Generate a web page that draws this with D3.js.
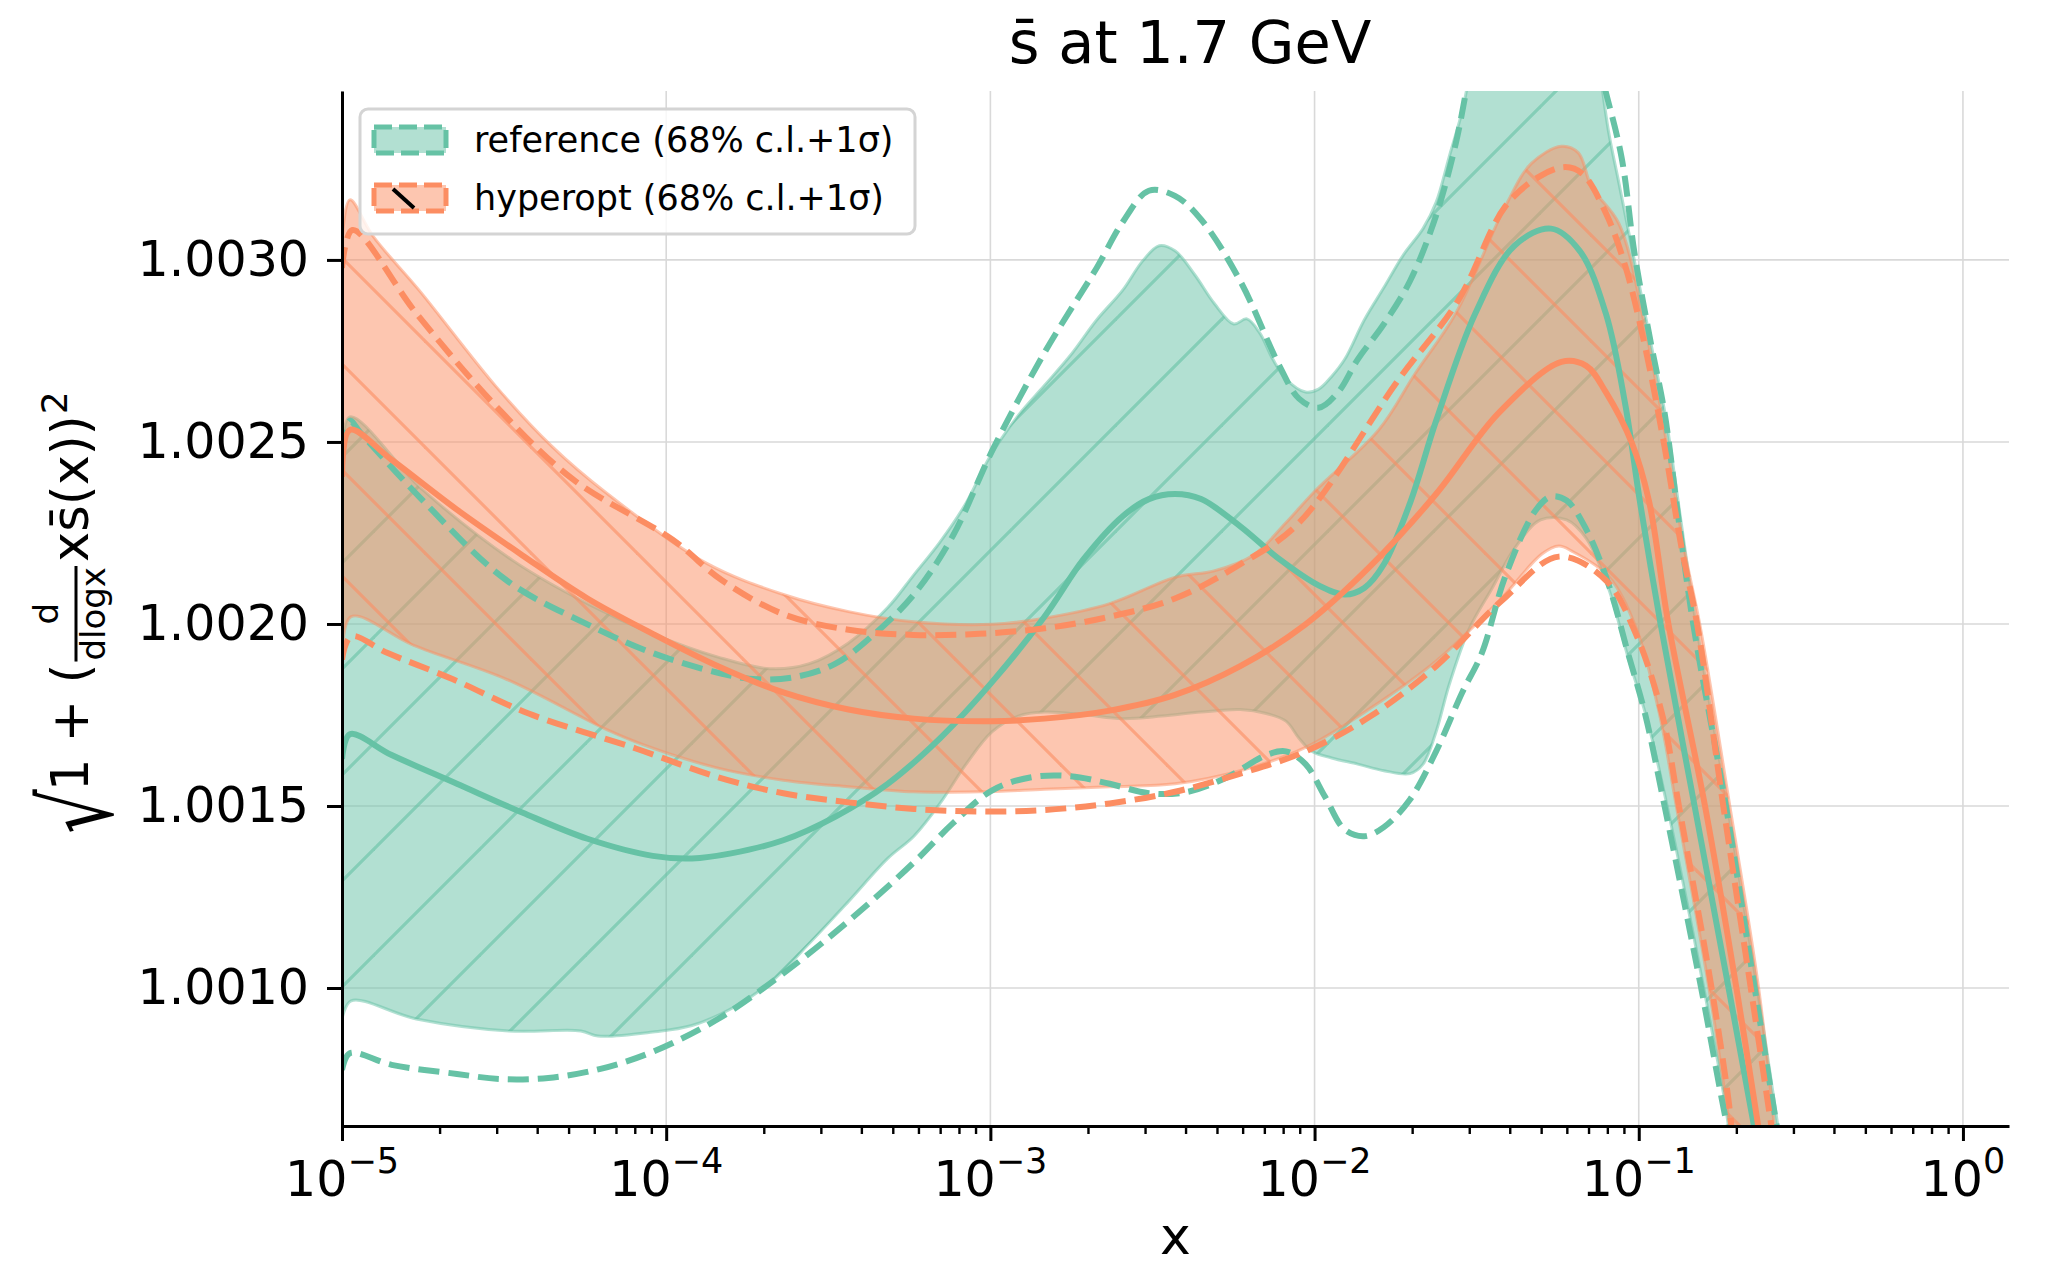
<!DOCTYPE html>
<html>
<head>
<meta charset="utf-8">
<script src="https://cdn.jsdelivr.net/npm/d3@7"></script>
<style>
  body { margin: 0; background: #fff; }
  text { font-family: "DejaVu Sans", sans-serif; }
</style>
</head>
<body>
<svg id="chart" width="2049" height="1267"></svg>
<script>
// ---------------- data: [log10(x), value] ----------------

// reference fit (green)
var refCentral = [[-5.0000,1.001629],[-4.9758,1.001697],[-4.8470,1.001640],[-4.6456,1.001561],[-4.4442,1.001482],[-4.2428,1.001410],[-4.0415,1.001363],[-3.9207,1.001356],[-3.7999,1.001370],[-3.6388,1.001406],[-3.4777,1.001471],[-3.3166,1.001561],[-3.1555,1.001686],[-2.9944,1.001841],[-2.8333,1.002020],[-2.7125,1.002178],[-2.5917,1.002296],[-2.5111,1.002343],[-2.4306,1.002357],[-2.3500,1.002343],[-2.2292,1.002268],[-2.1084,1.002178],[-1.9875,1.002106],[-1.9070,1.002081],[-1.8466,1.002099],[-1.7862,1.002164],[-1.7056,1.002332],[-1.6251,1.002558],[-1.5043,1.002853],[-1.3835,1.003039],[-1.2707,1.003086],[-1.1822,1.003025],[-1.1016,1.002853],[-1.0412,1.002601],[-0.9969,1.002339],[-0.9325,1.001999],[-0.8278,1.001500],[-0.7231,1.001001],[-0.6385,1.000592]];

var refUpper1s = [[-5.0000,1.002476],[-4.9758,1.002558],[-4.9436,1.002526],[-4.7624,1.002350],[-4.4926,1.002120],[-4.2428,1.001999],[-4.0415,1.001920],[-3.8401,1.001866],[-3.7194,1.001848],[-3.5986,1.001855],[-3.4777,1.001891],[-3.3569,1.001973],[-3.2360,1.002081],[-3.1152,1.002243],[-2.9944,1.002476],[-2.8333,1.002745],[-2.6722,1.002978],[-2.5917,1.003104],[-2.5111,1.003190],[-2.4306,1.003176],[-2.3500,1.003111],[-2.2292,1.002942],[-2.1084,1.002709],[-2.0480,1.002619],[-1.9875,1.002594],[-1.9272,1.002637],[-1.8667,1.002727],[-1.7862,1.002824],[-1.7056,1.002942],[-1.6251,1.003122],[-1.5647,1.003319],[-1.5244,1.003499],[-1.4500,1.003800],[-1.3000,1.004000],[-1.1800,1.003800],[-1.1218,1.003535],[-1.0533,1.003283],[-1.0130,1.003018],[-0.9607,1.002763],[-0.9204,1.002580],[-0.8761,1.002280],[-0.8318,1.001999],[-0.7312,1.001500],[-0.6425,1.001001],[-0.5741,1.000620],[-0.5500,1.000500]];

var refLower1s = [[-5.0000,1.000775],[-4.9758,1.000821],[-4.8470,1.000789],[-4.6456,1.000764],[-4.5127,1.000750],[-4.3637,1.000753],[-4.2026,1.000778],[-4.0415,1.000825],[-3.8401,1.000915],[-3.6388,1.001040],[-3.4375,1.001184],[-3.2360,1.001345],[-3.1152,1.001453],[-2.9944,1.001543],[-2.8736,1.001579],[-2.7528,1.001582],[-2.6319,1.001561],[-2.5111,1.001535],[-2.3903,1.001539],[-2.2695,1.001579],[-2.1487,1.001640],[-2.0883,1.001650],[-2.0278,1.001615],[-1.9674,1.001525],[-1.9070,1.001435],[-1.8466,1.001417],[-1.7862,1.001442],[-1.7056,1.001518],[-1.6251,1.001650],[-1.5446,1.001812],[-1.4841,1.001920],[-1.4116,1.002131],[-1.3190,1.002311],[-1.2707,1.002350],[-1.2224,1.002339],[-1.1620,1.002260],[-1.0936,1.002110],[-1.0332,1.001920],[-0.9808,1.001754],[-0.9204,1.001500],[-0.8077,1.001001],[-0.7432,1.000692],[-0.7000,1.000500]];

var refBandUpper = [[-5.0000,1.002458],[-4.9758,1.002569],[-4.7503,1.002368],[-4.4724,1.002174],[-4.2428,1.002056],[-4.0415,1.001973],[-3.8401,1.001909],[-3.6791,1.001877],[-3.5583,1.001891],[-3.4375,1.001948],[-3.3166,1.002045],[-3.2360,1.002135],[-3.1555,1.002225],[-3.0749,1.002332],[-3.0025,1.002458],[-2.9138,1.002573],[-2.8333,1.002655],[-2.7528,1.002738],[-2.6722,1.002835],[-2.5917,1.002917],[-2.5313,1.002996],[-2.4789,1.003039],[-2.4306,1.003025],[-2.3702,1.002960],[-2.3098,1.002881],[-2.2494,1.002824],[-2.2091,1.002838],[-2.1688,1.002799],[-2.1286,1.002727],[-2.0883,1.002673],[-2.0278,1.002637],[-1.9875,1.002645],[-1.9473,1.002680],[-1.9070,1.002727],[-1.8466,1.002835],[-1.7862,1.002924],[-1.7258,1.003014],[-1.6654,1.003086],[-1.6251,1.003158],[-1.5848,1.003283],[-1.5446,1.003409],[-1.5244,1.003499],[-1.4500,1.003900],[-1.3000,1.004100],[-1.1700,1.003900],[-1.1218,1.003535],[-1.0936,1.003355],[-1.0614,1.003212],[-1.0211,1.003032],[-0.9889,1.002889],[-0.9567,1.002745],[-0.9164,1.002566],[-0.8721,1.002297],[-0.8278,1.002027],[-0.7312,1.001525],[-0.6385,1.001022],[-0.5660,1.000592]];

var refBandLower = [[-5.0000,1.000915],[-4.9718,1.000965],[-4.7705,1.000915],[-4.4845,1.000882],[-4.2629,1.000882],[-4.2106,1.000868],[-4.0415,1.000879],[-3.9207,1.000897],[-3.7999,1.000943],[-3.6791,1.001015],[-3.5583,1.001123],[-3.4375,1.001238],[-3.3166,1.001356],[-3.2360,1.001417],[-3.1555,1.001507],[-3.0749,1.001615],[-2.9944,1.001704],[-2.9138,1.001747],[-2.8333,1.001758],[-2.7125,1.001751],[-2.5917,1.001740],[-2.4709,1.001747],[-2.3500,1.001758],[-2.2292,1.001765],[-2.1487,1.001754],[-2.0883,1.001733],[-2.0480,1.001686],[-2.0077,1.001650],[-1.9473,1.001632],[-1.8667,1.001615],[-1.7862,1.001597],[-1.7056,1.001589],[-1.6654,1.001615],[-1.6251,1.001704],[-1.5848,1.001833],[-1.5244,1.001984],[-1.4519,1.002099],[-1.3835,1.002207],[-1.3029,1.002286],[-1.2224,1.002286],[-1.1620,1.002235],[-1.0936,1.002099],[-1.0332,1.001909],[-0.9728,1.001733],[-0.9124,1.001500],[-0.7996,1.001001],[-0.7352,1.000692],[-0.7191,1.000592]];

// hyperopt fit (orange)
var hypCentral = [[-5.0000,1.002404],[-4.9758,1.002533],[-4.8470,1.002451],[-4.6456,1.002314],[-4.4442,1.002189],[-4.2428,1.002070],[-4.0415,1.001973],[-3.8401,1.001884],[-3.6388,1.001812],[-3.4375,1.001765],[-3.2360,1.001740],[-2.9944,1.001733],[-2.8333,1.001740],[-2.6319,1.001762],[-2.4306,1.001805],[-2.2292,1.001884],[-2.0278,1.001999],[-1.8265,1.002160],[-1.6251,1.002357],[-1.4318,1.002580],[-1.2385,1.002720],[-1.1620,1.002709],[-1.1016,1.002637],[-1.0211,1.002497],[-0.9687,1.002339],[-0.9083,1.001999],[-0.7956,1.001500],[-0.6989,1.001001],[-0.6264,1.000592]];

var hypUpper1s = [[-5.0000,1.002978],[-4.9678,1.003082],[-4.7705,1.002853],[-4.5248,1.002598],[-4.2871,1.002397],[-3.9811,1.002232],[-3.8281,1.002120],[-3.6388,1.002027],[-3.4375,1.001984],[-3.2360,1.001970],[-3.0347,1.001973],[-2.8333,1.001988],[-2.6319,1.002020],[-2.4306,1.002070],[-2.2292,1.002164],[-2.0480,1.002278],[-1.7419,1.002670],[-1.5566,1.002889],[-1.4116,1.003147],[-1.3069,1.003229],[-1.2264,1.003255],[-1.1741,1.003237],[-1.1016,1.003129],[-1.0412,1.002982],[-0.9808,1.002763],[-0.9204,1.002487],[-0.8681,1.002210],[-0.8198,1.001999],[-0.7392,1.001500],[-0.6546,1.001001],[-0.5861,1.000592]];

var hypLower1s = [[-5.0000,1.001902],[-4.9718,1.001966],[-4.8590,1.001920],[-4.6577,1.001848],[-4.4241,1.001754],[-4.0939,1.001658],[-3.8401,1.001579],[-3.6388,1.001535],[-3.4375,1.001510],[-3.2360,1.001492],[-3.0347,1.001485],[-2.8333,1.001489],[-2.6319,1.001507],[-2.4306,1.001539],[-2.2292,1.001589],[-2.0278,1.001650],[-1.8265,1.001747],[-1.6251,1.001884],[-1.4237,1.002063],[-1.2465,1.002185],[-1.1016,1.002120],[-1.0090,1.001973],[-0.9285,1.001754],[-0.8761,1.001500],[-0.7755,1.001001],[-0.7231,1.000692],[-0.7110,1.000592]];

var hypBandUpper = [[-5.0000,1.003054],[-4.9758,1.003165],[-4.9033,1.003064],[-4.7624,1.002917],[-4.5248,1.002652],[-4.3516,1.002487],[-4.1865,1.002361],[-3.8764,1.002167],[-3.6388,1.002081],[-3.4375,1.002034],[-3.2360,1.002006],[-2.9944,1.001999],[-2.8333,1.002016],[-2.6319,1.002056],[-2.4306,1.002128],[-2.3098,1.002146],[-2.1889,1.002189],[-2.0883,1.002278],[-1.9956,1.002368],[-1.8023,1.002533],[-1.6895,1.002688],[-1.5647,1.002853],[-1.4116,1.003147],[-1.3311,1.003265],[-1.2385,1.003312],[-1.1862,1.003294],[-1.1459,1.003201],[-1.0614,1.003100],[-0.9808,1.002817],[-0.9204,1.002530],[-0.8600,1.002207],[-0.8117,1.001999],[-0.7191,1.001500],[-0.6304,1.001001],[-0.5781,1.000592]];

var hypBandLower = [[-5.0000,1.001902],[-4.9718,1.002020],[-4.7785,1.001941],[-4.4926,1.001848],[-4.1865,1.001711],[-4.0697,1.001668],[-3.8401,1.001604],[-3.6388,1.001571],[-3.4375,1.001553],[-3.2360,1.001539],[-3.0347,1.001539],[-2.8333,1.001546],[-2.6319,1.001553],[-2.4306,1.001561],[-2.2292,1.001597],[-2.0278,1.001661],[-1.8265,1.001769],[-1.6251,1.001898],[-1.4237,1.002070],[-1.2989,1.002192],[-1.2465,1.002214],[-1.2063,1.002200],[-1.0936,1.002131],[-1.0090,1.001991],[-0.9365,1.001754],[-0.8842,1.001500],[-0.7835,1.001001],[-0.7312,1.000692],[-0.7150,1.000592]];

// axis ticks
var xMajorTicks = [1e-5, 1e-4, 1e-3, 1e-2, 1e-1, 1];
var xTickExponents = ['\u22125', '\u22124', '\u22123', '\u22122', '\u22121', '0'];
var yTicks = [1.0010, 1.0015, 1.0020, 1.0025, 1.0030];

// ---------------- setup ----------------
var plotL = 342, plotR = 2009, plotT = 91, plotB = 1126;
var green = '#66c2a5', orange = '#fc8d62';

var svg = d3.select('#chart');

var xScale = d3.scaleLog().domain([1e-5, 1.387]).range([plotL, plotR]);
var yScale = d3.scaleLinear().domain([1.000621, 1.003464]).range([plotB, plotT]);

var defs = svg.append('defs');
defs.append('clipPath').attr('id', 'plotClip')
  .append('rect').attr('x', plotL).attr('y', plotT)
  .attr('width', plotR - plotL).attr('height', plotB - plotT);

// hatch patterns  ( "/" for reference,  "\" for hyperopt )
var hatchSize = 106;
var pg = defs.append('pattern').attr('id', 'hatchGreen')
  .attr('patternUnits', 'userSpaceOnUse')
  .attr('x', 57).attr('y', 0)
  .attr('width', hatchSize).attr('height', hatchSize);
[[0, hatchSize, hatchSize, 0], [-6, 6, 6, -6], [hatchSize - 6, hatchSize + 6, hatchSize + 6, hatchSize - 6]].forEach(function(s) {
  pg.append('line').attr('x1', s[0]).attr('y1', s[1]).attr('x2', s[2]).attr('y2', s[3])
    .attr('stroke', green).attr('stroke-opacity', 0.6).attr('stroke-width', 3.2);
});
var po = defs.append('pattern').attr('id', 'hatchOrange')
  .attr('patternUnits', 'userSpaceOnUse')
  .attr('x', 0).attr('y', 22)
  .attr('width', hatchSize).attr('height', hatchSize);
[[0, 0, hatchSize, hatchSize], [-6, hatchSize - 6, 6, hatchSize + 6], [hatchSize - 6, -6, hatchSize + 6, 6]].forEach(function(s) {
  po.append('line').attr('x1', s[0]).attr('y1', s[1]).attr('x2', s[2]).attr('y2', s[3])
    .attr('stroke', orange).attr('stroke-opacity', 0.6).attr('stroke-width', 3.2);
});

// ---------------- grid ----------------
var grid = svg.append('g');
grid.selectAll('.gx').data(xMajorTicks).enter().append('line')
  .attr('x1', function(d) { return xScale(d); }).attr('x2', function(d) { return xScale(d); })
  .attr('y1', plotT).attr('y2', plotB)
  .attr('stroke', '#d9d9d9').attr('stroke-width', 1.6);
grid.selectAll('.gy').data(yTicks).enter().append('line')
  .attr('y1', function(d) { return yScale(d); }).attr('y2', function(d) { return yScale(d); })
  .attr('x1', plotL).attr('x2', plotR)
  .attr('stroke', '#d9d9d9').attr('stroke-width', 1.6);

// ---------------- curves ----------------
var line = d3.line()
  .x(function(d) { return xScale(Math.pow(10, d[0])); })
  .y(function(d) { return yScale(d[1]); })
  .curve(d3.curveCatmullRom.alpha(0.5));

function bandPath(upper, lower) {
  var lo = line(lower.slice().reverse());
  return line(upper) + 'L' + lo.slice(1) + 'Z';
}

var plot = svg.append('g').attr('clip-path', 'url(#plotClip)');

function drawBand(upper, lower, color, hatchId) {
  var d = bandPath(upper, lower);
  plot.append('path').attr('d', d)
    .attr('fill', color).attr('fill-opacity', 0.5)
    .attr('stroke', color).attr('stroke-opacity', 0.5).attr('stroke-width', 3);
  plot.append('path').attr('d', d)
    .attr('fill', 'url(#' + hatchId + ')').attr('stroke', 'none');
}

drawBand(refBandUpper, refBandLower, green, 'hatchGreen');
drawBand(hypBandUpper, hypBandLower, orange, 'hatchOrange');

function drawLine(data, color, dashed) {
  plot.append('path').attr('d', line(data))
    .attr('fill', 'none').attr('stroke', color)
    .attr('stroke-width', 6)
    .attr('stroke-dasharray', dashed ? '21,9' : null);
}

drawLine(refCentral, green, false);
drawLine(refUpper1s, green, true);
drawLine(refLower1s, green, true);
drawLine(hypCentral, orange, false);
drawLine(hypUpper1s, orange, true);
drawLine(hypLower1s, orange, true);

// ---------------- axes ----------------
var minorTicks = [];
for (var e = -5; e <= 0; e++) {
  for (var k = 2; k <= 9; k++) {
    var v = k * Math.pow(10, e);
    if (v <= 1.387) minorTicks.push(v);
  }
}

var xAxis = svg.append('g').attr('transform', 'translate(0,' + plotB + ')')
  .call(d3.axisBottom(xScale).tickValues(xMajorTicks).tickFormat('').tickSize(15).tickSizeOuter(0));
svg.append('g').attr('transform', 'translate(0,' + plotB + ')')
  .call(d3.axisBottom(xScale).tickValues(minorTicks).tickFormat('').tickSize(8).tickSizeOuter(0))
  .call(function(g) { g.select('.domain').remove(); })
  .selectAll('line').attr('stroke-width', 2.4);
xAxis.select('.domain').attr('stroke-width', 3);
xAxis.selectAll('.tick line').attr('stroke-width', 3);

var yAxis = svg.append('g').attr('transform', 'translate(' + plotL + ',0)')
  .call(d3.axisLeft(yScale).tickValues(yTicks).tickFormat(d3.format('.4f')).tickSize(15).tickSizeOuter(0).tickPadding(18));
yAxis.select('.domain').attr('stroke-width', 3);
yAxis.selectAll('.tick line').attr('stroke-width', 3);
yAxis.selectAll('.tick text')
  .attr('font-size', 49).attr('font-family', 'DejaVu Sans').attr('fill', '#000');

// x tick labels 10^n
var xl = svg.append('g');
xMajorTicks.forEach(function(t, i) {
  var txt = xl.append('text').attr('y', 1196).attr('font-size', 49).attr('fill', '#000');
  txt.append('tspan').text('10');
  txt.append('tspan').attr('font-size', 35).attr('dy', -23).text(xTickExponents[i]);
  var w = txt.node().getComputedTextLength();
  txt.attr('x', xScale(t) - w / 2);
});

// axis label x
svg.append('text').attr('x', (plotL + plotR) / 2).attr('y', 1254)
  .attr('text-anchor', 'middle').attr('font-size', 52).text('x');

// title
svg.append('text').attr('x', 1190).attr('y', 63)
  .attr('text-anchor', 'middle').attr('font-size', 59).text('s\u0304 at 1.7 GeV');

// y label: sqrt(1 + (d/dlogx x sbar(x))^2)
var yl = svg.append('g');
var fs = 51;
var cursor = 0;
var rad = yl.append('text').attr('font-size', 70).attr('transform', 'translate(0,24) scale(1,1.4)').text('\u221a');
cursor += rad.node().getComputedTextLength() - 2;
var part1 = yl.append('text').attr('x', cursor).attr('font-size', fs).text('1 + (');
cursor += part1.node().getComputedTextLength() + 2;
var num = yl.append('text').attr('font-size', 34).attr('y', -30).attr('text-anchor', 'middle').text('d');
var den = yl.append('text').attr('font-size', 34).attr('y', 17).attr('text-anchor', 'middle').text('dlogx');
var fracW = Math.max(num.node().getComputedTextLength(), den.node().getComputedTextLength()) + 2;
num.attr('x', cursor + fracW / 2);
den.attr('x', cursor + fracW / 2);
yl.append('line').attr('x1', cursor).attr('x2', cursor + fracW).attr('y1', -12).attr('y2', -12)
  .attr('stroke', '#000').attr('stroke-width', 3);
cursor += fracW + 4;
var part2 = yl.append('text').attr('x', cursor).attr('font-size', fs).text('xs\u0304(x))');
cursor += part2.node().getComputedTextLength() + 1;
yl.append('text').attr('x', cursor).attr('y', -21).attr('font-size', 36).text('2');
cursor += 22;
yl.attr('transform', 'translate(88,' + (613 + cursor / 2) + ') rotate(-90)');

// ---------------- legend ----------------
var lg = svg.append('g');
lg.append('rect').attr('x', 360).attr('y', 109).attr('width', 555).attr('height', 125)
  .attr('rx', 8).attr('fill', '#fff').attr('fill-opacity', 0.8)
  .attr('stroke', '#d4d4d4').attr('stroke-width', 3);
var legendItems = [
  { label: 'reference (68% c.l.+1\u03c3)', color: green, y: 140, hatch: false },
  { label: 'hyperopt (68% c.l.+1\u03c3)', color: orange, y: 198, hatch: true }
];
legendItems.forEach(function(it) {
  lg.append('rect').attr('x', 374).attr('y', it.y - 13).attr('width', 72).attr('height', 26)
    .attr('fill', it.color).attr('fill-opacity', 0.5)
    .attr('stroke', it.color).attr('stroke-width', 5).attr('stroke-dasharray', '18,7');
  if (it.hatch) {
    lg.append('line').attr('x1', 393).attr('y1', it.y - 9).attr('x2', 414).attr('y2', it.y + 10)
      .attr('stroke', '#000').attr('stroke-width', 4);
  }
  lg.append('text').attr('x', 474).attr('y', it.y + 12).attr('font-size', 35).text(it.label);
});
</script>
</body>
</html>
